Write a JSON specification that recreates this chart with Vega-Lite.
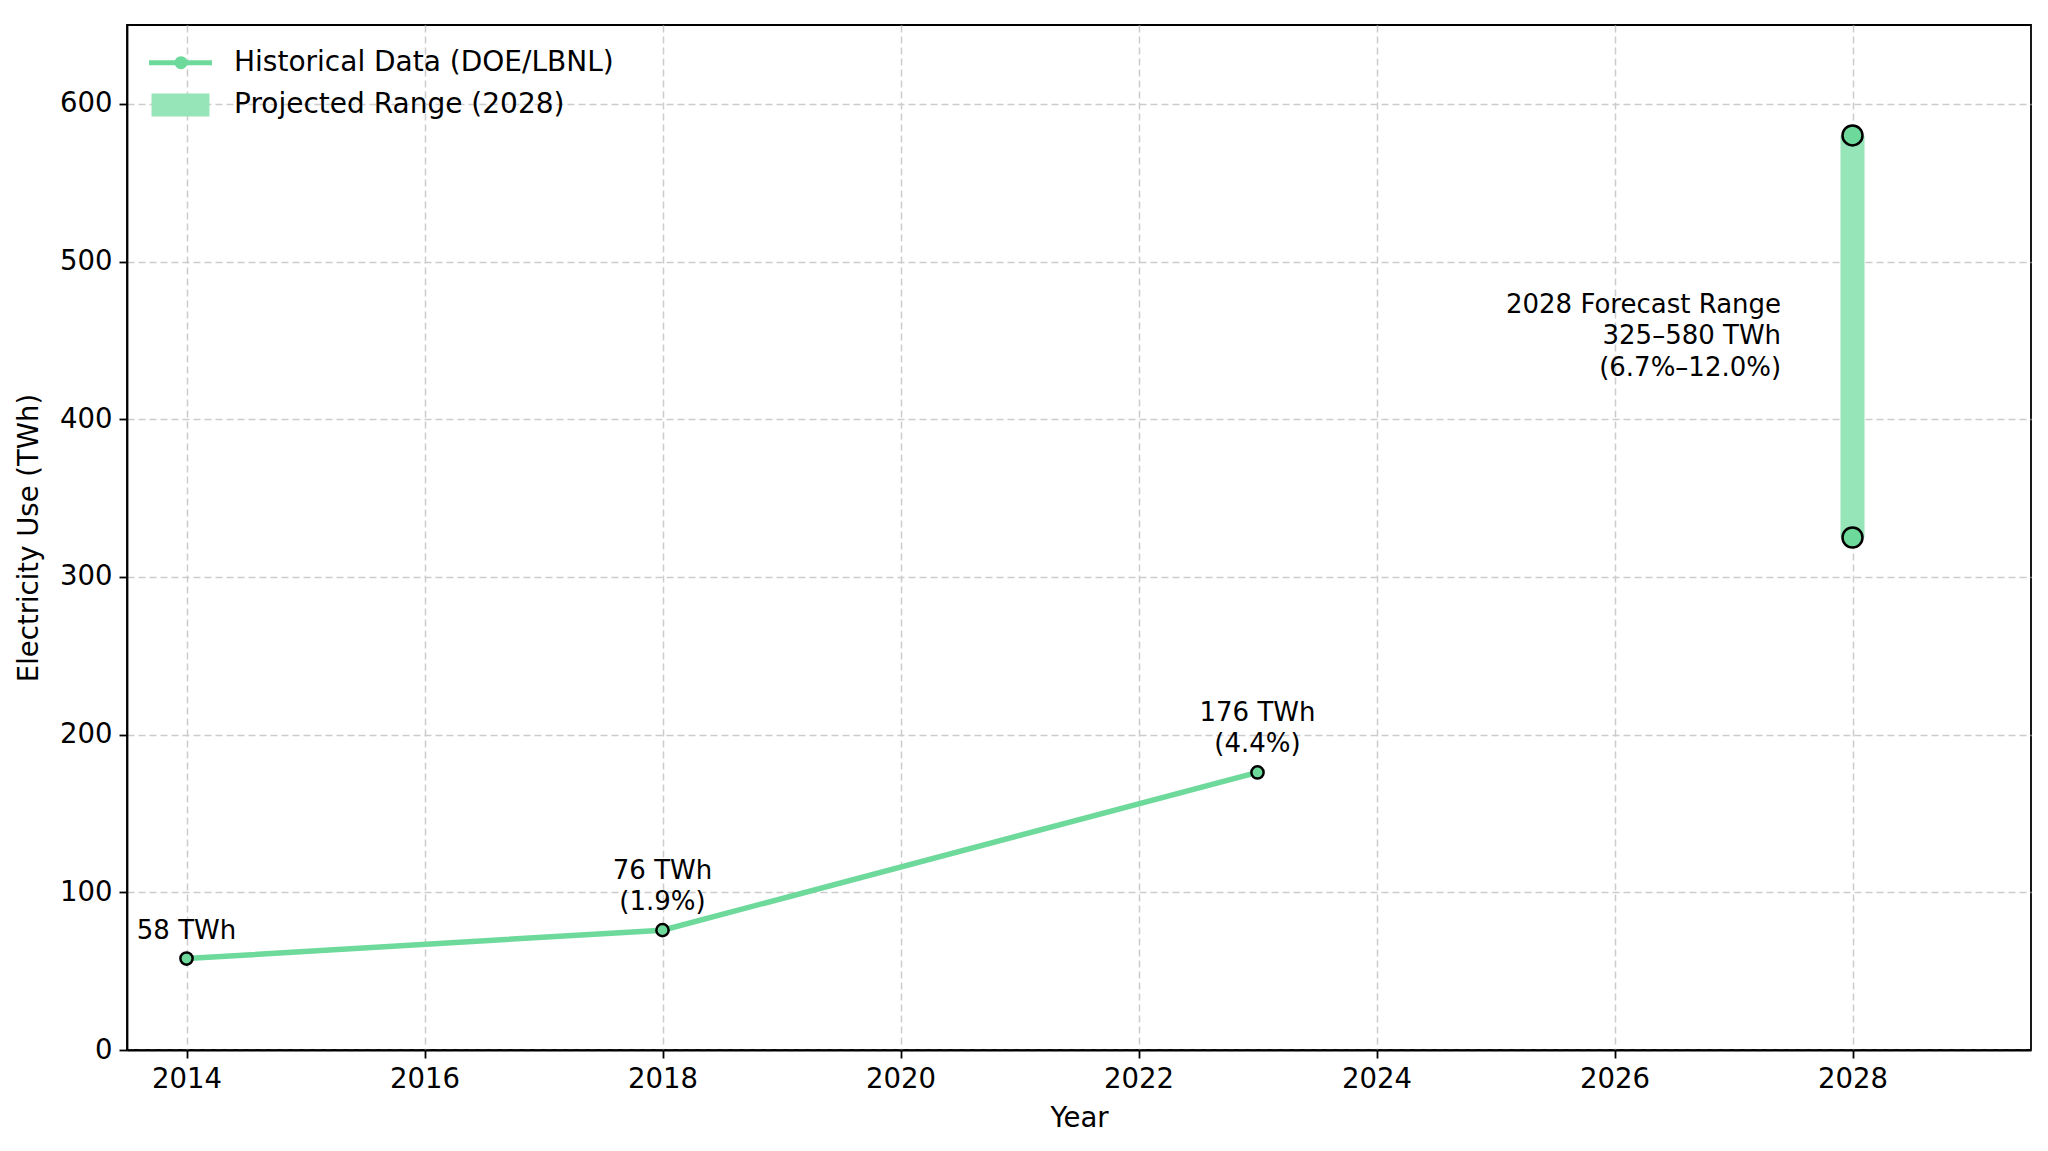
{
  "$schema": "https://vega.github.io/schema/vega-lite/v6.json",
  "width": 1904,
  "height": 1025,
  "autosize": {"type": "none"},
  "padding": {"left": 127, "top": 25, "right": 17, "bottom": 101},
  "background": "white",
  "config": {
    "font": "DejaVu Sans",
    "view": {"stroke": "black", "strokeWidth": 1.8},
    "axis": {
      "domainColor": "black", "domainWidth": 1.8,
      "tickColor": "black", "tickWidth": 1.8, "tickSize": 8,
      "labelFont": "DejaVu Sans", "labelFontSize": 27.5, "labelColor": "black", "labelPadding": 7,
      "titleFont": "DejaVu Sans", "titleFontSize": 27.5, "titleColor": "black", "titleFontWeight": "normal",
      "grid": true, "gridColor": "#cccccc", "gridDash": [7, 4], "gridWidth": 1.5
    },
    "legend": {"labelFont": "DejaVu Sans"}
  },
  "datasets": {
    "hist": [
      {"year": 2014, "twh": 58, "label": "58 TWh", "lines": 1},
      {"year": 2018, "twh": 76, "label": "76 TWh\n(1.9%)", "lines": 2},
      {"year": 2023, "twh": 176, "label": "176 TWh\n(4.4%)", "lines": 2}
    ],
    "range": [{"year": 2028, "low": 325, "high": 580}],
    "ends": [{"year": 2028, "twh": 325}, {"year": 2028, "twh": 580}],
    "note": [{"year": 2027.4, "twh": 452.5, "label": "2028 Forecast Range\n325–580 TWh\n(6.7%–12.0%)"}]
  },
  "layer": [
    {
      "data": {"name": "range"},
      "mark": {"type": "bar", "size": 24},
      "encoding": {
        "x": {"field": "year", "type": "quantitative", "scale": {"domain": [2013.5, 2029.5], "nice": false, "zero": false, "padding": 0},
              "axis": {"values": [2014, 2016, 2018, 2020, 2022, 2024, 2026, 2028], "format": "d", "title": "Year", "titlePadding": 12}},
        "y": {"field": "low", "type": "quantitative", "scale": {"domain": [0, 650], "nice": false, "padding": 0},
              "axis": {"values": [0, 100, 200, 300, 400, 500, 600], "title": "Electricity Use (TWh)", "titlePadding": 16}},
        "y2": {"field": "high"},
        "color": {
          "datum": "Projected Range (2028)", "type": "nominal",
          "scale": {"domain": ["Historical Data (DOE/LBNL)", "Projected Range (2028)"], "range": ["#6dd99a", "#96e5b8"]},
          "legend": {
            "title": null, "orient": "none", "legendX": 39.5, "legendY": 23.7, "padding": 0, "zindex": 1,
            "symbolSize": 3969, "labelFontSize": 28, "labelColor": "black", "labelLimit": 800,
            "labelOffset": 39.5, "rowPadding": 14.3,
            "encode": {
              "symbols": {
                "update": {
                  "shape": {"signal": "datum.value === 'Projected Range (2028)' ? 'M-0.92,-0.365H0.92V0.365H-0.92Z' : 'M-1,0H1'"},
                  "fill": {"signal": "datum.value === 'Projected Range (2028)' ? '#96e5b8' : 'transparent'"},
                  "stroke": {"signal": "datum.value === 'Projected Range (2028)' ? 'transparent' : '#6dd99a'"},
                  "strokeWidth": {"signal": "datum.value === 'Projected Range (2028)' ? 0 : 5"},
                  "opacity": {"value": 1},
                  "size": {"value": 3969}
                }
              }
            }
          }
        }
      }
    },
    {
      "data": {"name": "hist"},
      "mark": {"type": "line", "strokeWidth": 5.5},
      "encoding": {
        "x": {"field": "year", "type": "quantitative"},
        "y": {"field": "twh", "type": "quantitative"},
        "color": {"datum": "Historical Data (DOE/LBNL)", "type": "nominal"}
      }
    },
    {
      "data": {"name": "hist"},
      "mark": {"type": "point", "filled": true, "fill": "#6dd99a", "stroke": "black", "strokeWidth": 2.5, "opacity": 1, "size": 150},
      "encoding": {
        "x": {"field": "year", "type": "quantitative"},
        "y": {"field": "twh", "type": "quantitative"},
        "shape": {
          "datum": "Historical Data (DOE/LBNL)", "type": "nominal",
          "scale": {"domain": ["Historical Data (DOE/LBNL)"], "range": ["circle"]},
          "legend": {
            "title": null, "orient": "none", "legendX": 40, "legendY": 23.7, "padding": 0, "zindex": 5,
            "symbolType": "circle", "symbolSize": 170, "symbolStrokeWidth": 2.5, "symbolFillColor": "#6dd99a", "symbolStrokeColor": "black",
            "labelFontSize": 28, "labelColor": "transparent", "labelLimit": 10,
            "encode": {"symbols": {
              "fill": {"value": "#6dd99a"}, "stroke": {"value": "black"}, "strokeWidth": {"value": 2.5}, "opacity": {"value": 1}, "size": {"value": 170},
              "update": {"fill": {"value": "#6dd99a"}, "stroke": {"value": "black"}, "strokeWidth": {"value": 2.5}, "opacity": {"value": 1}, "size": {"value": 170}}
            }}
          }
        }
      }
    },
    {
      "data": {"name": "ends"},
      "mark": {"type": "point", "shape": "circle", "filled": true, "fill": "#6dd99a", "stroke": "black", "strokeWidth": 2.5, "opacity": 1, "size": 400},
      "encoding": {
        "x": {"field": "year", "type": "quantitative"},
        "y": {"field": "twh", "type": "quantitative"}
      }
    },
    {
      "data": {"name": "hist"},
      "transform": [{"filter": "datum.lines == 1"}],
      "mark": {"type": "text", "align": "center", "baseline": "bottom", "dy": -15, "fontSize": 26, "color": "black"},
      "encoding": {
        "x": {"field": "year", "type": "quantitative"},
        "y": {"field": "twh", "type": "quantitative"},
        "text": {"field": "label"}
      }
    },
    {
      "data": {"name": "hist"},
      "transform": [{"filter": "datum.lines == 2"}],
      "mark": {"type": "text", "align": "center", "baseline": "bottom", "dy": -46.5, "fontSize": 26, "lineHeight": 31.5, "lineBreak": "\n", "color": "black"},
      "encoding": {
        "x": {"field": "year", "type": "quantitative"},
        "y": {"field": "twh", "type": "quantitative"},
        "text": {"field": "label"}
      }
    },
    {
      "data": {"name": "note"},
      "mark": {"type": "text", "align": "right", "baseline": "middle", "dy": -31.5, "fontSize": 26, "lineHeight": 31.5, "lineBreak": "\n", "color": "black"},
      "encoding": {
        "x": {"field": "year", "type": "quantitative"},
        "y": {"field": "twh", "type": "quantitative"},
        "text": {"field": "label"}
      }
    }
  ]
}
